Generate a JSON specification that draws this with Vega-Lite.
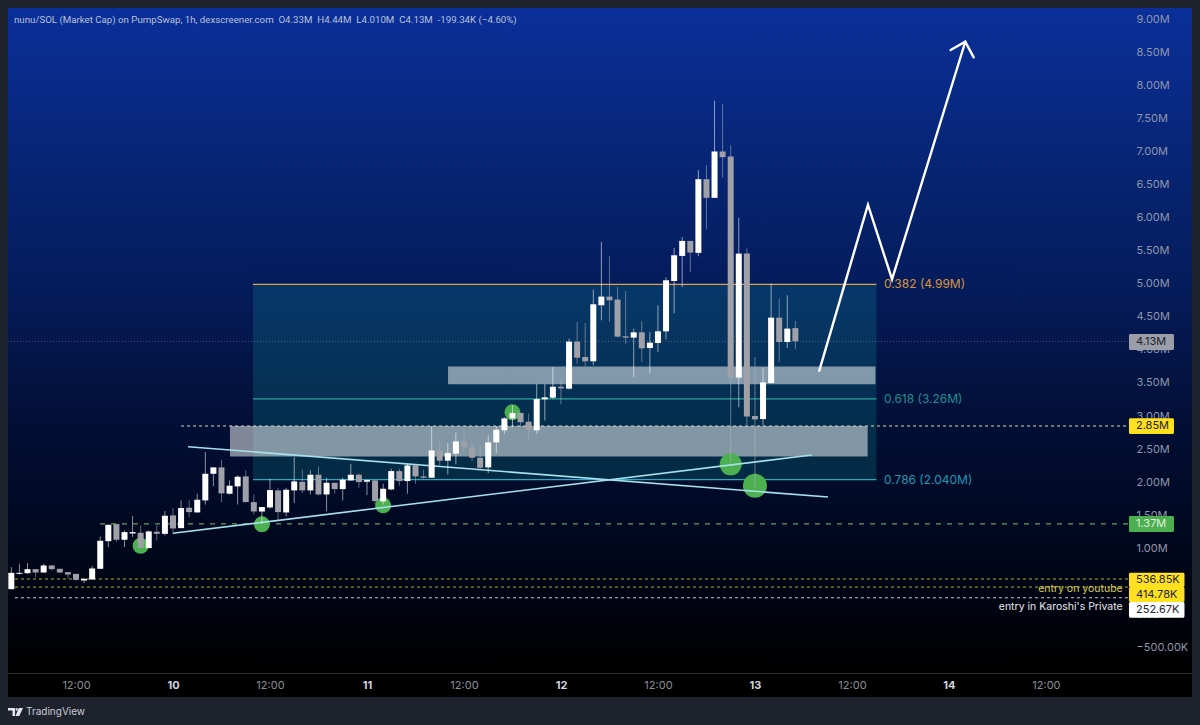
{
  "$schema": "https://vega.github.io/schema/vega-lite/v6.json",
  "description": "nunu/SOL market cap hourly candles with fib levels and a drawn projection",
  "width": 1184,
  "height": 689,
  "autosize": "none",
  "padding": {"left": 8, "top": 8, "right": 8, "bottom": 28},
  "background": "#1e222d",
  "view": {
    "stroke": null,
    "fill": {
      "gradient": "linear", "x1": 0, "y1": 0, "x2": 0, "y2": 1,
      "stops": [
        {"offset": 0, "color": "#0a2f9a"},
        {"offset": 0.2, "color": "#072678"},
        {"offset": 0.4, "color": "#051c5c"},
        {"offset": 0.6, "color": "#020f36"},
        {"offset": 0.8, "color": "#00061a"},
        {"offset": 0.96, "color": "#000000"},
        {"offset": 1, "color": "#000000"}
      ]
    }
  },
  "config": {"font": "Inter"},
  "datasets": {
    "candles": [
      {"t":4,"o":0.383,"h":0.716,"l":0.383,"c":0.630},
      {"t":5,"o":0.615,"h":0.767,"l":0.605,"c":0.630},
      {"t":6,"o":0.625,"h":0.777,"l":0.615,"c":0.686},
      {"t":7,"o":0.686,"h":0.686,"l":0.565,"c":0.635},
      {"t":8,"o":0.635,"h":0.767,"l":0.630,"c":0.741},
      {"t":9,"o":0.741,"h":0.751,"l":0.666,"c":0.686},
      {"t":10,"o":0.691,"h":0.691,"l":0.630,"c":0.635},
      {"t":11,"o":0.640,"h":0.640,"l":0.540,"c":0.605},
      {"t":12,"o":0.615,"h":0.615,"l":0.514,"c":0.524},
      {"t":13,"o":0.514,"h":0.540,"l":0.474,"c":0.540},
      {"t":14,"o":0.530,"h":0.736,"l":0.530,"c":0.696},
      {"t":15,"o":0.691,"h":1.180,"l":0.691,"c":1.115},
      {"t":16,"o":1.109,"h":1.357,"l":1.019,"c":1.357},
      {"t":17,"o":1.367,"h":1.367,"l":1.094,"c":1.130},
      {"t":18,"o":1.130,"h":1.271,"l":1.019,"c":1.246},
      {"t":19,"o":1.225,"h":1.488,"l":1.170,"c":1.246},
      {"t":20,"o":1.236,"h":1.346,"l":1.009,"c":1.009},
      {"t":21,"o":1.004,"h":1.271,"l":1.004,"c":1.256},
      {"t":22,"o":1.251,"h":1.346,"l":1.120,"c":1.220},
      {"t":23,"o":1.220,"h":1.563,"l":1.195,"c":1.493},
      {"t":24,"o":1.498,"h":1.609,"l":1.246,"c":1.301},
      {"t":25,"o":1.306,"h":1.725,"l":1.306,"c":1.609},
      {"t":26,"o":1.614,"h":1.725,"l":1.473,"c":1.548},
      {"t":27,"o":1.543,"h":1.826,"l":1.543,"c":1.735},
      {"t":28,"o":1.725,"h":2.456,"l":1.664,"c":2.128},
      {"t":29,"o":2.128,"h":2.224,"l":1.937,"c":2.224},
      {"t":30,"o":2.224,"h":2.340,"l":1.699,"c":1.831},
      {"t":31,"o":1.826,"h":2.027,"l":1.815,"c":1.947},
      {"t":32,"o":1.937,"h":2.103,"l":1.664,"c":2.083},
      {"t":33,"o":2.088,"h":2.179,"l":1.699,"c":1.699},
      {"t":34,"o":1.699,"h":1.815,"l":1.513,"c":1.558},
      {"t":35,"o":1.558,"h":1.624,"l":1.372,"c":1.624},
      {"t":36,"o":1.619,"h":2.052,"l":1.599,"c":1.881},
      {"t":37,"o":1.876,"h":1.916,"l":1.432,"c":1.548},
      {"t":38,"o":1.543,"h":1.916,"l":1.483,"c":1.886},
      {"t":39,"o":1.876,"h":2.380,"l":1.684,"c":2.012},
      {"t":40,"o":2.007,"h":2.189,"l":1.836,"c":1.876},
      {"t":41,"o":1.876,"h":2.179,"l":1.815,"c":2.113},
      {"t":42,"o":2.113,"h":2.239,"l":1.800,"c":1.815},
      {"t":43,"o":1.815,"h":2.068,"l":1.563,"c":1.992},
      {"t":44,"o":1.992,"h":1.992,"l":1.826,"c":1.896},
      {"t":45,"o":1.896,"h":2.068,"l":1.725,"c":2.037},
      {"t":46,"o":2.027,"h":2.279,"l":2.027,"c":2.113},
      {"t":47,"o":2.113,"h":2.128,"l":1.916,"c":2.002},
      {"t":48,"o":2.007,"h":2.037,"l":1.805,"c":2.032},
      {"t":49,"o":2.027,"h":2.027,"l":1.674,"c":1.715},
      {"t":50,"o":1.710,"h":1.977,"l":1.664,"c":1.901},
      {"t":51,"o":1.891,"h":2.204,"l":1.876,"c":2.168},
      {"t":52,"o":2.168,"h":2.204,"l":1.947,"c":2.017},
      {"t":53,"o":2.017,"h":2.279,"l":1.826,"c":2.254},
      {"t":54,"o":2.259,"h":2.259,"l":1.977,"c":2.088},
      {"t":55,"o":2.088,"h":2.189,"l":2.052,"c":2.068},
      {"t":56,"o":2.068,"h":2.844,"l":2.068,"c":2.481},
      {"t":57,"o":2.486,"h":2.622,"l":2.254,"c":2.325},
      {"t":58,"o":2.325,"h":2.592,"l":2.118,"c":2.441},
      {"t":59,"o":2.431,"h":2.748,"l":2.269,"c":2.617},
      {"t":60,"o":2.617,"h":2.809,"l":2.481,"c":2.532},
      {"t":61,"o":2.522,"h":2.582,"l":2.320,"c":2.370},
      {"t":62,"o":2.370,"h":2.532,"l":2.189,"c":2.219},
      {"t":63,"o":2.224,"h":2.708,"l":2.138,"c":2.602},
      {"t":64,"o":2.602,"h":2.844,"l":2.441,"c":2.794},
      {"t":65,"o":2.784,"h":2.985,"l":2.733,"c":2.965},
      {"t":66,"o":2.965,"h":3.162,"l":2.834,"c":3.046},
      {"t":67,"o":3.046,"h":3.046,"l":2.834,"c":2.905},
      {"t":68,"o":2.915,"h":3.036,"l":2.632,"c":2.794},
      {"t":69,"o":2.784,"h":3.490,"l":2.733,"c":3.258},
      {"t":70,"o":3.253,"h":3.490,"l":2.935,"c":3.283},
      {"t":71,"o":3.278,"h":3.742,"l":3.263,"c":3.444},
      {"t":72,"o":3.444,"h":3.565,"l":3.177,"c":3.419},
      {"t":73,"o":3.414,"h":4.171,"l":3.404,"c":4.125},
      {"t":74,"o":4.125,"h":4.423,"l":3.792,"c":3.883},
      {"t":75,"o":3.893,"h":4.408,"l":3.752,"c":3.828},
      {"t":76,"o":3.828,"h":4.912,"l":3.767,"c":4.690},
      {"t":77,"o":4.675,"h":5.633,"l":4.448,"c":4.806},
      {"t":78,"o":4.806,"h":5.416,"l":4.423,"c":4.751},
      {"t":79,"o":4.761,"h":4.952,"l":4.186,"c":4.201},
      {"t":80,"o":4.206,"h":4.892,"l":4.095,"c":4.186},
      {"t":81,"o":4.186,"h":4.322,"l":3.591,"c":4.266},
      {"t":82,"o":4.266,"h":4.433,"l":3.818,"c":4.024},
      {"t":83,"o":4.029,"h":4.271,"l":3.651,"c":4.110},
      {"t":84,"o":4.105,"h":4.675,"l":3.969,"c":4.281},
      {"t":85,"o":4.281,"h":5.098,"l":4.160,"c":5.053},
      {"t":86,"o":5.042,"h":5.542,"l":4.554,"c":5.431},
      {"t":87,"o":5.421,"h":5.708,"l":4.952,"c":5.648},
      {"t":88,"o":5.648,"h":5.648,"l":5.179,"c":5.472},
      {"t":89,"o":5.467,"h":6.717,"l":5.416,"c":6.581},
      {"t":90,"o":6.581,"h":6.793,"l":5.820,"c":6.299},
      {"t":91,"o":6.299,"h":7.766,"l":6.299,"c":7.000},
      {"t":92,"o":7.000,"h":7.716,"l":6.606,"c":6.914},
      {"t":93,"o":6.924,"h":7.095,"l":2.284,"c":3.581},
      {"t":94,"o":3.581,"h":5.996,"l":3.132,"c":5.456},
      {"t":95,"o":5.456,"h":5.532,"l":2.859,"c":2.995},
      {"t":96,"o":3.001,"h":3.893,"l":1.926,"c":2.950},
      {"t":97,"o":2.955,"h":3.732,"l":2.859,"c":3.510},
      {"t":98,"o":3.500,"h":5.003,"l":3.490,"c":4.488},
      {"t":99,"o":4.488,"h":4.776,"l":3.818,"c":4.120},
      {"t":100,"o":4.120,"h":4.826,"l":4.029,"c":4.322},
      {"t":101,"o":4.33,"h":4.44,"l":4.01,"c":4.13}
    ],
    "trend": [
      {"line":"rising","t":23.96,"v":1.228},
      {"line":"rising","t":103.02,"v":2.411},
      {"line":"falling","t":25.86,"v":2.537},
      {"line":"falling","t":105.04,"v":1.776}
    ],
    "arrow": [
      {"part":"path","n":1,"t":103.96,"v":3.686},
      {"part":"path","n":2,"t":109.98,"v":6.195},
      {"part":"path","n":3,"t":112.96,"v":5.067},
      {"part":"path","n":4,"t":122.02,"v":8.659},
      {"part":"head","n":1,"t":120.21,"v":8.533},
      {"part":"head","n":2,"t":122.02,"v":8.659},
      {"part":"head","n":3,"t":123.06,"v":8.423}
    ]
  },
  "encoding": {
    "x": {
      "field": "t",
      "type": "quantitative",
      "scale": {"domain": [3.588, 150.07], "nice": false, "zero": false, "padding": 0},
      "axis": {
        "title": null,
        "grid": false,
        "ticks": false,
        "offset": -24,
        "domainColor": "#2a2e39",
        "values": [12, 24, 36, 48, 60, 72, 84, 96, 108, 120, 132],
        "labelExpr": "datum.value % 24 == 0 ? '' + (9 + datum.value / 24) : '12:00'",
        "labelFontSize": 11,
        "labelPadding": 6,
        "labelBaseline": "top",
        "labelFontWeight": {"condition": {"test": "datum.value % 24 == 0", "value": "bold"}, "value": "normal"},
        "labelColor": {"condition": {"test": "datum.value % 24 == 0", "value": "#d1d4dc"}, "value": "#8a8e98"}
      }
    },
    "y": {
      "field": "v",
      "type": "quantitative",
      "scale": {"domain": [-1.247, 9.169], "nice": false, "zero": false},
      "axis": {
        "title": null,
        "orient": "right",
        "grid": false,
        "ticks": false,
        "domain": false,
        "offset": -64,
        "values": [-0.5, 0, 0.5, 1, 1.5, 2, 2.5, 3, 3.5, 4, 4.5, 5, 5.5, 6, 6.5, 7, 7.5, 8, 8.5, 9],
        "labelExpr": "datum.value >= 1 ? format(datum.value, '.2f') + 'M' : datum.value == 0 ? '0.00' : format(datum.value * 1000, '.2f') + 'K'",
        "labelFontSize": 11,
        "labelPadding": 8,
        "labelColor": "#8f96aa"
      }
    }
  },
  "layer": [
    {
      "data": {"values": [{"t": 33.9, "t2": 111.03, "v": 4.99, "v2": 2.04}]},
      "mark": {"type": "rect", "color": "#10a8a8", "opacity": 0.2},
      "encoding": {"x2": {"field": "t2"}, "y2": {"field": "v2"}}
    },
    {
      "data": {"values": [
        {"t": 58.03, "t2": 110.91, "v": 3.75, "v2": 3.48},
        {"t": 31.05, "t2": 109.94, "v": 2.85, "v2": 2.39}
      ]},
      "mark": {"type": "rect", "color": "#ffffff", "opacity": 0.5},
      "encoding": {"x2": {"field": "t2"}, "y2": {"field": "v2"}}
    },
    {
      "data": {"values": [{"t": 33.9, "t2": 111.03, "v": 4.99}]},
      "mark": {"type": "rule", "color": "#e0a04a", "strokeWidth": 1.2},
      "encoding": {"x2": {"field": "t2"}}
    },
    {
      "data": {"values": [{"t": 33.9, "t2": 111.03, "v": 3.26}]},
      "mark": {"type": "rule", "color": "#26a69a", "strokeWidth": 1.2},
      "encoding": {"x2": {"field": "t2"}}
    },
    {
      "data": {"values": [{"t": 33.9, "t2": 111.03, "v": 2.04}]},
      "mark": {"type": "rule", "color": "#2aa8c4", "strokeWidth": 1.2},
      "encoding": {"x2": {"field": "t2"}}
    },
    {
      "data": {"values": [{"t": 3.588, "t2": 142.2, "v": 4.13}]},
      "mark": {"type": "rule", "color": "#9aa4c0", "strokeWidth": 0.6, "strokeDash": [1, 2], "opacity": 0.8},
      "encoding": {"x2": {"field": "t2"}}
    },
    {
      "data": {"values": [{"t": 25, "t2": 142.2, "v": 2.85}]},
      "mark": {"type": "rule", "color": "#d8d8c0", "strokeWidth": 1, "strokeDash": [3, 3]},
      "encoding": {"x2": {"field": "t2"}}
    },
    {
      "data": {"values": [{"t": 14.97, "t2": 142.2, "v": 1.37}]},
      "mark": {"type": "rule", "color": "#6fc46f", "strokeWidth": 1, "strokeDash": [5, 6]},
      "encoding": {"x2": {"field": "t2"}}
    },
    {
      "data": {"values": [{"t": 4.45, "t2": 142.2, "v": 0.53685}, {"t": 4.45, "t2": 142.2, "v": 0.41478}]},
      "mark": {"type": "rule", "color": "#b5ad45", "strokeWidth": 1, "strokeDash": [3, 3]},
      "encoding": {"x2": {"field": "t2"}}
    },
    {
      "data": {"values": [{"t": 4.45, "t2": 142.2, "v": 0.25267}]},
      "mark": {"type": "rule", "color": "#c8ccd4", "strokeWidth": 1, "strokeDash": [3, 3]},
      "encoding": {"x2": {"field": "t2"}}
    },
    {
      "data": {"values": [
        {"t": 20, "v": 1.04},
        {"t": 35, "v": 1.363},
        {"t": 50, "v": 1.651},
        {"t": 66, "v": 3.057}
      ]},
      "mark": {"type": "circle", "color": "#4cb050", "size": 256, "opacity": 1}
    },
    {
      "data": {"values": [{"t": 93, "v": 2.27}]},
      "mark": {"type": "circle", "color": "#4cb050", "size": 484, "opacity": 1}
    },
    {
      "data": {"values": [{"t": 96, "v": 1.947}]},
      "mark": {"type": "circle", "color": "#4cb050", "size": 576, "opacity": 1}
    },
    {
      "data": {"name": "trend"},
      "mark": {"type": "line", "color": "#a6e0ec", "strokeWidth": 1.6},
      "encoding": {"detail": {"field": "line"}}
    },
    {
      "data": {"name": "candles"},
      "mark": {"type": "rule", "strokeWidth": 1, "opacity": 0.55},
      "encoding": {
        "y": {
          "field": "l",
          "type": "quantitative",
          "scale": {"domain": [-1.247, 9.169], "nice": false, "zero": false},
          "axis": {
            "title": null,
            "orient": "right",
            "grid": false,
            "ticks": false,
            "domain": false,
            "offset": -64,
            "values": [-0.5, 0, 0.5, 1, 1.5, 2, 2.5, 3, 3.5, 4, 4.5, 5, 5.5, 6, 6.5, 7, 7.5, 8, 8.5, 9],
            "labelExpr": "datum.value >= 1 ? format(datum.value, '.2f') + 'M' : datum.value == 0 ? '0.00' : format(datum.value * 1000, '.2f') + 'K'",
            "labelFontSize": 11,
            "labelPadding": 8,
            "labelColor": "#8f96aa"
          }
        },
        "y2": {"field": "h"},
        "color": {"condition": {"test": "datum.c >= datum.o", "value": "#ffffff"}, "value": "#b0b4c0"}
      }
    },
    {
      "data": {"name": "candles"},
      "mark": {"type": "bar", "size": 6, "orient": "vertical"},
      "encoding": {
        "y": {
          "field": "o",
          "type": "quantitative",
          "scale": {"domain": [-1.247, 9.169], "nice": false, "zero": false},
          "axis": {
            "title": null,
            "orient": "right",
            "grid": false,
            "ticks": false,
            "domain": false,
            "offset": -64,
            "values": [-0.5, 0, 0.5, 1, 1.5, 2, 2.5, 3, 3.5, 4, 4.5, 5, 5.5, 6, 6.5, 7, 7.5, 8, 8.5, 9],
            "labelExpr": "datum.value >= 1 ? format(datum.value, '.2f') + 'M' : datum.value == 0 ? '0.00' : format(datum.value * 1000, '.2f') + 'K'",
            "labelFontSize": 11,
            "labelPadding": 8,
            "labelColor": "#8f96aa"
          }
        },
        "y2": {"field": "c"},
        "color": {"condition": {"test": "datum.c >= datum.o", "value": "#ffffff"}, "value": "#a0a0a8"}
      }
    },
    {
      "data": {"name": "arrow"},
      "mark": {"type": "line", "color": "#ffffff", "strokeWidth": 2.4, "strokeCap": "round", "strokeJoin": "miter"},
      "encoding": {"detail": {"field": "part"}, "order": {"field": "n"}}
    },
    {
      "data": {"values": [
        {"t": 142.27, "t2": 147.84, "v": 4.24, "v2": 4.0, "fill": "price"},
        {"t": 142.27, "t2": 147.84, "v": 2.966, "v2": 2.729, "fill": "entry"},
        {"t": 142.27, "t2": 147.84, "v": 1.489, "v2": 1.247, "fill": "support"},
        {"t": 142.27, "t2": 149.14, "v": 0.632, "v2": 0.416, "fill": "entry"},
        {"t": 142.27, "t2": 149.14, "v": 0.416, "v2": 0.189, "fill": "entry"},
        {"t": 142.27, "t2": 149.14, "v": 0.189, "v2": -0.048, "fill": "private"}
      ]},
      "mark": {"type": "rect", "cornerRadius": 1.5},
      "encoding": {
        "x2": {"field": "t2"},
        "y2": {"field": "v2"},
        "color": {
          "field": "fill",
          "type": "nominal",
          "legend": null,
          "scale": {
            "domain": ["price", "entry", "support", "private"],
            "range": ["#9a9ea8", "#ffe11f", "#4caf50", "#ffffff"]
          }
        }
      }
    },
    {
      "data": {"values": [
        {"t": 143.14, "v": 4.12, "label": "4.13M"},
        {"t": 143.14, "v": 2.85, "label": "2.85M"},
        {"t": 143.14, "v": 0.522, "label": "536.85K"},
        {"t": 143.14, "v": 0.295, "label": "414.78K"},
        {"t": 143.14, "v": 0.068, "label": "252.67K"}
      ]},
      "mark": {"type": "text", "align": "left", "baseline": "middle", "fontSize": 11, "color": "#1e222d"},
      "encoding": {"text": {"field": "label"}}
    },
    {
      "data": {"values": [{"t": 143.14, "v": 1.368, "label": "1.37M"}]},
      "mark": {"type": "text", "align": "left", "baseline": "middle", "fontSize": 11, "color": "#dff2df"},
      "encoding": {"text": {"field": "label"}}
    },
    {
      "data": {"values": [{"t": 111.96, "v": 4.99, "label": "0.382 (4.99M)"}]},
      "mark": {"type": "text", "align": "left", "baseline": "middle", "fontSize": 12, "color": "#d9943a"},
      "encoding": {"text": {"field": "label"}}
    },
    {
      "data": {"values": [{"t": 111.96, "v": 3.26, "label": "0.618 (3.26M)"}]},
      "mark": {"type": "text", "align": "left", "baseline": "middle", "fontSize": 12, "color": "#1f8f8a"},
      "encoding": {"text": {"field": "label"}}
    },
    {
      "data": {"values": [{"t": 111.96, "v": 2.04, "label": "0.786 (2.040M)"}]},
      "mark": {"type": "text", "align": "left", "baseline": "middle", "fontSize": 12, "color": "#2098b4"},
      "encoding": {"text": {"field": "label"}}
    },
    {
      "data": {"values": [{"t": 141.5, "v": 0.385, "label": "entry on youtube"}]},
      "mark": {"type": "text", "align": "right", "baseline": "middle", "fontSize": 10.5, "color": "#d8ce48"},
      "encoding": {"text": {"field": "label"}}
    },
    {
      "data": {"values": [{"t": 141.5, "v": 0.109, "label": "entry in Karoshi's Private"}]},
      "mark": {"type": "text", "align": "right", "baseline": "middle", "fontSize": 10.5, "color": "#e6e8ec"},
      "encoding": {"text": {"field": "label"}}
    },
    {
      "data": {"values": [{"t": 4.33, "v": 8.987, "label": "nunu/SOL (Market Cap) on PumpSwap, 1h, dexscreener.com\u00a0\u00a0O4.33M\u00a0\u00a0H4.44M\u00a0\u00a0L4.010M\u00a0\u00a0C4.13M\u00a0\u00a0-199.34K (−4.60%)"}]},
      "mark": {"type": "text", "align": "left", "baseline": "middle", "font": "Roboto", "fontSize": 9.7, "color": "#b8c2d8"},
      "encoding": {"text": {"field": "label"}}
    },
    {
      "data": {"values": [{"t": 5.82, "v": -1.474, "label": "TradingView"}]},
      "mark": {"type": "text", "align": "left", "baseline": "middle", "fontSize": 10, "color": "#c8ccd4"},
      "encoding": {"text": {"field": "label"}}
    },
    {
      "data": {"values": [{"t": 4.516, "v": -1.474}]},
      "mark": {
        "type": "point",
        "filled": true,
        "opacity": 1,
        "size": 900,
        "color": "#e4e6ea",
        "shape": "M-0.5 -0.27H-0.03V0.27H-0.2V-0.1H-0.5Z M0 -0.17A0.08 0.08 0 1 1 0.16 -0.17A0.08 0.08 0 1 1 0 -0.17Z M0.22 -0.27H0.5L0.25 0.27H0Z"
      }
    }
  ]
}
